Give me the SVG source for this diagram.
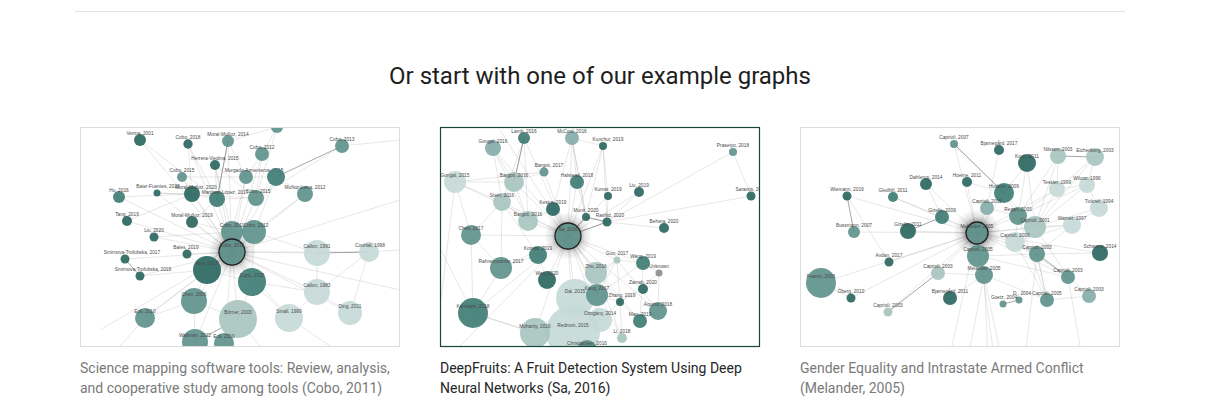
<svg xmlns="http://www.w3.org/2000/svg" width="1211" height="407" viewBox="0 0 1211 407">
<defs>
<style>
.cap{font-family:Roboto,"Liberation Sans",sans-serif;font-size:14px;fill:#7a7a7a}
.cap2{font-family:Roboto,"Liberation Sans",sans-serif;font-size:14px;fill:#262626}
.t{font-family:"Liberation Sans",Arial,sans-serif;font-size:4.8px;fill:#4a4a4a;text-anchor:middle}
.e{stroke:#8a8a8a;stroke-opacity:.35;stroke-width:.6;fill:none}
.e2{stroke:#444;stroke-opacity:.6;stroke-width:.8;fill:none}
circle{fill-opacity:.92}
.d{fill:#2b6760}.dm{fill:#3f7c75}.m{fill:#5f938d}.lm{fill:#86ada9}.l{fill:#a8c4c0}.vl{fill:#c6dad7}.gr{fill:#8c8c8c}
.ctr{stroke:#222;stroke-width:1.3}
</style>
<radialGradient id="glow">
<stop offset="0.45" stop-color="#000" stop-opacity="0.4"/>
<stop offset="0.7" stop-color="#000" stop-opacity="0.12"/>
<stop offset="1" stop-color="#000" stop-opacity="0"/>
</radialGradient>
<clipPath id="c1"><rect x="81" y="128" width="318" height="218"/></clipPath>
<clipPath id="c2"><rect x="441" y="128" width="318" height="218"/></clipPath>
<clipPath id="c3"><rect x="801" y="128" width="318" height="218"/></clipPath>
</defs>
<rect width="1211" height="407" fill="#fff"/>
<line x1="75" y1="11.5" x2="1125" y2="11.5" stroke="#e3e3e3" stroke-width="1"/>
<text x="600" y="84" text-anchor="middle" font-family="Roboto,'Liberation Sans',sans-serif" font-size="24" fill="#1e1e1e">Or start with one of our example graphs</text>

<!-- ============ Thumbnail 1 ============ -->
<g id="thumb1" clip-path="url(#c1)">
<g id="t1-connectors">
<path class="e" d="M232 252L140 140M232 252L188 144M232 252L228 141M232 252L262 154M232 252L215 165M232 252L182 177M232 252L246 177M232 252L276 177M232 252L192 194M232 252L217 199M232 252L256 198M232 252L305 194M232 252L192 222M232 252L232 232M232 252L254 232M232 252L187 254M232 252L317 253M232 252L369 252M232 252L207 270M232 252L252 282M232 252L317 292M232 252L194 301M232 252L238 319M232 252L289 318M232 252L195 342M232 252L224 343M232 252L119 197M232 252L127 221M232 252L154 237M232 252L125 259M232 252L140 276M232 252L157 193M232 252L145 318M232 252L350 313M232 252L400 200M232 252L400 290M232 252L100 330"/>
<path class="e" d="M342 146L256 198M228 141L246 177M228 141L217 199M188 144L192 194M188 144L217 199M277 127L262 154M277 127L256 198M262 154L246 177M215 165L217 199M215 165L256 198M182 177L192 194M182 177L246 177M119 197L192 194M157 193L192 194M157 193L256 198M192 194L217 199M217 199L256 198M246 177L276 177M276 177L256 198M276 177L305 194M305 194L254 232M232 232L254 232M192 222L232 232M192 222L217 199M187 254L207 270M154 237L232 232M127 221L192 194M317 253L317 292M317 253L254 232M317 292L350 313M369 252L350 313M369 252L317 292M207 270L252 282M207 270L194 301M194 301L145 318M194 301L195 342M238 319L252 282M238 319L224 343M289 318L252 282M289 318L317 292M145 318L207 270M252 282L317 292M254 232L252 282M232 232L207 270M194 301L238 319M140 140L217 199M228 141L277 127M262 154L256 198M342 146L400 140M369 252L400 250M289 318L330 346M238 319L260 346M145 318L120 346M246 177L232 232M276 177L254 232M215 165L232 232M140 276L207 270"/>
<path class="e2" d="M342 146L276 177M125 259L140 276M317 253L369 252M238 319L195 342M228 141L217 199"/>
</g>
<circle cx="232" cy="252" r="24" fill="url(#glow)"/>
<g id="t1-n1"><circle class="d" cx="140" cy="140" r="6"/><text class="t" x="140" y="134.8">Verma, 2001</text></g>
<g id="t1-n2"><circle class="d" cx="188" cy="144" r="4.7"/><text class="t" x="188" y="138.8">Cobo, 2018</text></g>
<g id="t1-n3"><circle class="m" cx="228" cy="141" r="6"/><text class="t" x="228" y="135.8">Moral-Muñoz, 2014</text></g>
<g id="t1-n4"><circle class="m" cx="277" cy="127" r="6"/></g>
<g id="t1-n5"><circle class="m" cx="262" cy="154" r="7"/><text class="t" x="262" y="148.8">Cobo, 2012</text></g>
<g id="t1-n6"><circle class="m" cx="342" cy="146" r="7"/><text class="t" x="342" y="140.8">Cobo, 2013</text></g>
<g id="t1-n7"><circle class="d" cx="215" cy="165" r="5"/><text class="t" x="215" y="159.8">Herrera-Viedma, 2015</text></g>
<g id="t1-n8"><circle class="m" cx="182" cy="177" r="5"/><text class="t" x="182" y="171.8">Cobo, 2015</text></g>
<g id="t1-n9"><circle class="m" cx="246" cy="177" r="7"/><text class="t" x="254" y="171.8">Murgado-Armenteros, 2015</text></g>
<g id="t1-n10"><circle class="dm" cx="276" cy="177" r="9"/></g>
<g id="t1-n11"><circle class="dm" cx="119" cy="197" r="6"/><text class="t" x="119" y="191.8">Hu, 2016</text></g>
<g id="t1-n12"><circle class="d" cx="157" cy="193" r="3.5"/><text class="t" x="158" y="187.8">Baier-Fuentes, 2020</text></g>
<g id="t1-n13"><circle class="d" cx="192" cy="194" r="8"/><text class="t" x="196" y="188.8">Moral-Muñoz, 2020</text></g>
<g id="t1-n14"><circle class="dm" cx="217" cy="199" r="8"/><text class="t" x="225" y="193.8">Martínez-López, 2017</text></g>
<g id="t1-n15"><circle class="m" cx="256" cy="198" r="8"/><text class="t" x="258" y="192.8">Cobo, 2015</text></g>
<g id="t1-n16"><circle class="m" cx="305" cy="194" r="8"/><text class="t" x="305" y="188.8">Muñoz-Leiva, 2012</text></g>
<g id="t1-n17"><circle class="d" cx="127" cy="221" r="5"/><text class="t" x="127" y="215.8">Tang, 2019</text></g>
<g id="t1-n18"><circle class="d" cx="192" cy="222" r="6"/><text class="t" x="192" y="216.8">Moral-Muñoz, 2019</text></g>
<g id="t1-n19"><circle class="d" cx="154" cy="237" r="4.5"/><text class="t" x="154" y="231.8">Liu, 2020</text></g>
<g id="t1-n20"><circle class="m" cx="232" cy="232" r="11"/><text class="t" x="232" y="226.8">Cobo, 2011</text></g>
<g id="t1-n21"><circle class="m" cx="254" cy="232" r="12"/><text class="t" x="256" y="226.8">Cobo, 2012</text></g>
<g id="t1-n22"><circle class="d" cx="187" cy="254" r="4.5"/><text class="t" x="186" y="248.8">Bales, 2019</text></g>
<g id="t1-n23"><circle class="vl" cx="317" cy="253" r="13"/><text class="t" x="317" y="247.8">Callon, 1991</text></g>
<g id="t1-n24"><circle class="vl" cx="369" cy="252" r="10"/><text class="t" x="370" y="246.8">Courtial, 1998</text></g>
<g id="t1-n25"><circle class="d" cx="125" cy="259" r="4.5"/><text class="t" x="132" y="253.8">Smirnova-Trofubska, 2017</text></g>
<g id="t1-n26"><circle class="d" cx="140" cy="276" r="4.5"/><text class="t" x="143" y="270.8">Smirnova-Trofubska, 2018</text></g>
<g id="t1-n27"><circle class="d" cx="207" cy="270" r="14"/><text class="t" x="207" y="264.8">Aria, 2017</text></g>
<g id="t1-n28"><circle class="dm" cx="252" cy="282" r="14"/><text class="t" x="252" y="276.8">Zupic, 2015</text></g>
<g id="t1-n29"><circle class="vl" cx="317" cy="292" r="13"/><text class="t" x="317" y="286.8">Callon, 1983</text></g>
<g id="t1-n30"><circle class="m" cx="194" cy="301" r="13"/><text class="t" x="194" y="295.8">Chen, 2006</text></g>
<g id="t1-n31"><circle class="vl" cx="350" cy="313" r="12"/><text class="t" x="350" y="307.8">Ding, 2011</text></g>
<g id="t1-n32"><circle class="m" cx="145" cy="318" r="10"/><text class="t" x="145" y="312.8">Eck, 2010</text></g>
<g id="t1-n33"><circle class="l" cx="238" cy="319" r="19"/><text class="t" x="238" y="313.8">Börner, 2003</text></g>
<g id="t1-n34"><circle class="vl" cx="289" cy="318" r="14"/><text class="t" x="289" y="312.8">Small, 1999</text></g>
<g id="t1-n35"><circle class="m" cx="195" cy="342" r="13"/><text class="t" x="195" y="336.8">Waltman, 2012</text></g>
<g id="t1-n36"><circle class="m" cx="224" cy="343" r="10"/><text class="t" x="224" y="337.8">Eck, 2010</text></g>
<g id="t1-n0"><circle class="m ctr" cx="232" cy="252" r="13"/><text class="t" x="232" y="246.8">Cobo, 2011</text></g>
</g>
<rect x="80.5" y="127.5" width="319" height="219" fill="none" stroke="#dcdcdc" stroke-width="1"/>

<!-- ============ Thumbnail 2 ============ -->
<g id="thumb2" clip-path="url(#c2)">
<g id="t2-connectors">
<path class="e" d="M568 236L524 138M568 236L572 138M568 236L603 146M568 236L493 148M568 236L544 172M568 236L514 182M568 236L455 182M568 236L577 182M568 236L608 196M568 236L502 202M568 236L553 209M568 236L528 221M568 236L586 217M568 236L607 222M568 236L471 235M568 236L538 255M568 236L501 268M568 236L596 273M568 236L547 280M568 236L597 295M568 236L575 298M568 236L473 313M568 236L600 320M568 236L573 332M568 236L535 333M568 236L617 260M568 236L643 263M568 236L639 192M568 236L658 311M568 236L640 321M568 236L622 338M568 236L620 302M568 236L500 130M568 236L460 346"/>
<path class="e" d="M733 152L751 196M733 152L607 222M751 196L607 222M607 222L664 228M607 222L586 217M607 222L608 196M586 217L603 146M608 196L603 146M607 222L603 146M639 192L607 222M572 138L577 182M572 138L603 146M572 138L586 217M524 138L514 182M524 138L502 202M493 148L514 182M493 148L502 202M455 182L514 182M455 182L502 202M455 182L471 235M455 182L544 172M514 182L544 172M502 202L528 221M514 182L528 221M502 202L471 235M471 235L501 268M501 268L502 202M501 268L473 313M473 313L535 333M473 313L471 235M535 333L575 298M573 332L575 298M617 260L596 273M617 260L643 263M617 260L597 295M617 260L620 302M643 263L659 273M659 273L620 302M659 273L658 311M643 289L620 302M597 295L620 302M620 302L640 321M620 302L622 338M658 311L640 321M597 295L600 320M596 273L597 295M575 298L597 295M620 302L600 320M617 260L658 311M643 263L597 295M553 209L528 221M577 182L586 217M538 255L547 280M538 255L501 268M524 138L528 221M572 138L553 209M493 148L528 221M455 182L441 300M473 313L441 250M535 333L473 313M538 255L502 202M643 263L640 321M596 273L622 338M617 260L575 298M586 217L572 138"/>
<path class="e2" d="M568 236L607 222M568 236L586 217M586 217L607 222M524 138L514 182"/>
</g>
<circle cx="568" cy="236" r="24" fill="url(#glow)"/>
<g id="t2-n1"><circle class="dm" cx="524" cy="138" r="6"/><text class="t" x="524" y="132.8">Lamb, 2016</text></g>
<g id="t2-n2"><circle class="lm" cx="572" cy="138" r="7"/><text class="t" x="572" y="132.8">McCool, 2016</text></g>
<g id="t2-n3"><circle class="d" cx="603" cy="146" r="4"/><text class="t" x="608" y="140.8">Kunchur, 2019</text></g>
<g id="t2-n4"><circle class="lm" cx="493" cy="148" r="8"/><text class="t" x="493" y="142.8">Gongal, 2016</text></g>
<g id="t2-n5"><circle class="m" cx="733" cy="152" r="4"/><text class="t" x="733" y="146.8">Prasetyo, 2018</text></g>
<g id="t2-n6"><circle class="m" cx="544" cy="172" r="4.5"/><text class="t" x="549" y="166.8">Bargoti, 2017</text></g>
<g id="t2-n7"><circle class="l" cx="514" cy="182" r="10"/><text class="t" x="514" y="176.8">Bargoti, 2016</text></g>
<g id="t2-n8"><circle class="vl" cx="455" cy="182" r="11"/><text class="t" x="455" y="176.8">Gongal, 2015</text></g>
<g id="t2-n9"><circle class="dm" cx="577" cy="182" r="7"/><text class="t" x="577" y="176.8">Halstead, 2018</text></g>
<g id="t2-n10"><circle class="d" cx="608" cy="196" r="4"/><text class="t" x="608" y="190.8">Kumar, 2019</text></g>
<g id="t2-n11"><circle class="d" cx="639" cy="192" r="5"/><text class="t" x="639" y="186.8">Liu, 2019</text></g>
<g id="t2-n12"><circle class="d" cx="751" cy="196" r="4.5"/><text class="t" x="751" y="190.8">Sarantis, 2019</text></g>
<g id="t2-n13"><circle class="l" cx="502" cy="202" r="9"/><text class="t" x="502" y="196.8">Stein, 2016</text></g>
<g id="t2-n14"><circle class="d" cx="553" cy="209" r="7"/><text class="t" x="553" y="203.8">Kestur, 2019</text></g>
<g id="t2-n15"><circle class="l" cx="528" cy="221" r="10"/><text class="t" x="528" y="215.8">Bargoti, 2016</text></g>
<g id="t2-n16"><circle class="d" cx="586" cy="217" r="4"/><text class="t" x="586" y="211.8">Munir, 2020</text></g>
<g id="t2-n17"><circle class="d" cx="607" cy="222" r="4.5"/><text class="t" x="610" y="216.8">Rashid, 2020</text></g>
<g id="t2-n18"><circle class="d" cx="664" cy="228" r="5"/><text class="t" x="664" y="222.8">Behera, 2020</text></g>
<g id="t2-n19"><circle class="m" cx="471" cy="235" r="10"/><text class="t" x="471" y="229.8">Chen, 2017</text></g>
<g id="t2-n20"><circle class="dm" cx="538" cy="255" r="9"/><text class="t" x="538" y="249.8">Koirala, 2019</text></g>
<g id="t2-n21"><circle class="l" cx="617" cy="260" r="3.5"/><text class="t" x="617" y="254.8">Guo, 2017</text></g>
<g id="t2-n22"><circle class="dm" cx="643" cy="263" r="7"/><text class="t" x="643" y="257.8">Wang, 2019</text></g>
<g id="t2-n23"><circle class="gr" cx="659" cy="273" r="3.5"/><text class="t" x="659" y="267.8">Unknown</text></g>
<g id="t2-n24"><circle class="m" cx="501" cy="268" r="11"/><text class="t" x="501" y="262.8">Rahnemoonfar, 2017</text></g>
<g id="t2-n25"><circle class="l" cx="596" cy="273" r="11"/><text class="t" x="596" y="267.8">Zhu, 2016</text></g>
<g id="t2-n26"><circle class="d" cx="547" cy="280" r="9"/><text class="t" x="547" y="274.8">Wan, 2020</text></g>
<g id="t2-n27"><circle class="d" cx="643" cy="289" r="5"/><text class="t" x="643" y="283.8">Zainab, 2020</text></g>
<g id="t2-n29"><circle class="vl" cx="575" cy="298" r="19"/><text class="t" x="575" y="292.8">Dai, 2015</text></g>
<g id="t2-n28"><circle class="m" cx="597" cy="295" r="11"/><text class="t" x="597" y="289.8">Kang, 2017</text></g>
<g id="t2-n30"><circle class="dm" cx="473" cy="313" r="15"/><text class="t" x="473" y="307.8">Kamilaris, 2018</text></g>
<g id="t2-n31"><circle class="d" cx="620" cy="302" r="4"/><text class="t" x="622" y="296.8">Zhang, 2019</text></g>
<g id="t2-n32"><circle class="m" cx="658" cy="311" r="9"/><text class="t" x="658" y="305.8">Aquino, 2018</text></g>
<g id="t2-n35"><circle class="vl" cx="573" cy="332" r="27"/><text class="t" x="573" y="326.8">Redmon, 2015</text></g>
<g id="t2-n33"><circle class="vl" cx="600" cy="320" r="12"/><text class="t" x="600" y="314.8">Ozogány, 2014</text></g>
<g id="t2-n34"><circle class="dm" cx="640" cy="321" r="7"/><text class="t" x="640" y="315.8">Mao, 2019</text></g>
<g id="t2-n36"><circle class="l" cx="535" cy="333" r="15"/><text class="t" x="535" y="327.8">Mohanty, 2016</text></g>
<g id="t2-n37"><circle class="l" cx="622" cy="338" r="5"/><text class="t" x="622" y="332.8">Li, 2018</text></g>
<g id="t2-n38"><circle class="m" cx="587" cy="350" r="10"/><text class="t" x="587" y="344.8">Christiansen, 2016</text></g>
<g id="t2-n0"><circle class="m ctr" cx="568" cy="236" r="13"/><text class="t" x="568" y="230.8">Sa, 2016</text></g>
</g>
<rect x="440.5" y="127.5" width="319" height="219" fill="none" stroke="#17473f" stroke-width="1.2"/>

<!-- ============ Thumbnail 3 ============ -->
<g id="thumb3" clip-path="url(#c3)">
<g id="t3-connectors">
<path class="e" d="M977 233L954 144M977 233L926 184M977 233L967 182M977 233L1004 193M977 233L893 197M977 233L987 208M977 233L1018 216M977 233L942 217M977 233L1035 227M977 233L854 232M977 233L908 231M977 233L1015 242M977 233L978 256M977 233L1037 254M977 233L889 262M977 233L938 273M977 233L984 275M977 233L821 283M977 233L851 298M977 233L888 312M977 233L1057 189M977 233L1072 225M977 233L1068 277M977 233L1100 253M977 233L847 196M977 233L940 400M977 233L1000 400"/>
<path class="e" d="M954 144L1004 193M999 150L987 208M1058 156L1035 227M1095 157L1087 185M1058 156L1057 189M1057 189L1087 185M1087 185L1099 208M1057 189L1018 216M1087 185L1035 227M1099 208L1035 227M1018 216L1035 227M1018 216L1015 242M1035 227L1072 225M1072 225L1015 242M1015 242L1037 254M1037 254L1047 300M1089 296L1047 300M1037 254L1100 253M926 184L942 217M893 197L942 217M984 275L938 273M984 275L978 256M978 256L1037 254M984 275L1047 300M984 275L950 298M1004 193L1018 216M1027 163L1035 227M1027 163L1018 216M1027 163L1004 193M987 208L1018 216M978 256L1068 277M1095 157L1035 227M1058 156L1018 216M1099 208L1072 225M1095 157L1057 189M1072 225L1037 254M1015 242L1068 277M984 275L960 400M984 275L990 400M984 275L1010 400M1037 254L1020 400M1068 277L1080 346M1037 254L1047 300M1089 296L1068 277M1015 242L1047 300M1035 227L1068 277M967 182L1004 193M847 196L889 262M821 283L851 298M1018 216L1047 300M1057 189L1035 227M1004 193L1035 227M1087 185L1018 216"/>
<path class="e2" d="M1058 156L1095 157M847 196L854 232M908 231L942 217M938 273L888 312M1019 300L1003 304M1037 254L1068 277M954 144L1004 193"/>
</g>
<circle cx="977" cy="233" r="24" fill="url(#glow)"/>
<g id="t3-n1"><circle class="m" cx="954" cy="144" r="4"/><text class="t" x="954" y="138.8">Caprioli, 2007</text></g>
<g id="t3-n2"><circle class="d" cx="999" cy="150" r="5"/><text class="t" x="999" y="144.8">Bjarnegård, 2017</text></g>
<g id="t3-n3"><circle class="d" cx="1027" cy="163" r="9"/><text class="t" x="1027" y="157.8">Koch, 2011</text></g>
<g id="t3-n4"><circle class="l" cx="1058" cy="156" r="8"/><text class="t" x="1058" y="150.8">Nilsson, 2003</text></g>
<g id="t3-n5"><circle class="l" cx="1095" cy="157" r="9"/><text class="t" x="1095" y="151.8">Eichenberg, 2003</text></g>
<g id="t3-n6"><circle class="d" cx="926" cy="184" r="6"/><text class="t" x="926" y="178.8">Dahlerup, 2014</text></g>
<g id="t3-n7"><circle class="d" cx="967" cy="182" r="5"/><text class="t" x="967" y="176.8">Hoeme, 2011</text></g>
<g id="t3-n8"><circle class="dm" cx="1004" cy="193" r="10"/><text class="t" x="1004" y="187.8">Hudson, 2009</text></g>
<g id="t3-n9"><circle class="vl" cx="1057" cy="189" r="8"/><text class="t" x="1057" y="183.8">Tessler, 1999</text></g>
<g id="t3-n10"><circle class="vl" cx="1087" cy="185" r="8"/><text class="t" x="1087" y="179.8">Wilcox, 1996</text></g>
<g id="t3-n11"><circle class="d" cx="847" cy="196" r="4.5"/><text class="t" x="847" y="190.8">Wiemann, 2019</text></g>
<g id="t3-n12"><circle class="dm" cx="893" cy="197" r="5"/><text class="t" x="893" y="191.8">Gledhill, 2011</text></g>
<g id="t3-n13"><circle class="lm" cx="987" cy="208" r="7"/><text class="t" x="987" y="202.8">Caprioli, 2005</text></g>
<g id="t3-n14"><circle class="m" cx="1018" cy="216" r="9"/><text class="t" x="1018" y="210.8">Regan, 2003</text></g>
<g id="t3-n15"><circle class="vl" cx="1099" cy="208" r="9"/><text class="t" x="1099" y="202.8">Tickner, 1994</text></g>
<g id="t3-n16"><circle class="dm" cx="942" cy="217" r="7"/><text class="t" x="942" y="211.8">Gizelis, 2009</text></g>
<g id="t3-n17"><circle class="l" cx="1035" cy="227" r="11"/><text class="t" x="1035" y="221.8">Caprioli, 2001</text></g>
<g id="t3-n18"><circle class="vl" cx="1072" cy="225" r="9"/><text class="t" x="1072" y="219.8">Warner, 1997</text></g>
<g id="t3-n19"><circle class="m" cx="854" cy="232" r="6"/><text class="t" x="854" y="226.8">Bussmann, 2007</text></g>
<g id="t3-n20"><circle class="d" cx="908" cy="231" r="8"/><text class="t" x="908" y="225.8">Gizelis, 2011</text></g>
<g id="t3-n21"><circle class="vl" cx="1015" cy="242" r="10"/><text class="t" x="1015" y="236.8">Caprioli, 2000</text></g>
<g id="t3-n22"><circle class="m" cx="978" cy="256" r="11"/><text class="t" x="978" y="250.8">Caprioli, 2005</text></g>
<g id="t3-n23"><circle class="m" cx="1037" cy="254" r="8"/><text class="t" x="1037" y="248.8">Caprioli, 2003</text></g>
<g id="t3-n24"><circle class="d" cx="1100" cy="253" r="8"/><text class="t" x="1100" y="247.8">Schwartz, 2014</text></g>
<g id="t3-n25"><circle class="d" cx="889" cy="262" r="4.5"/><text class="t" x="889" y="256.8">Avdan, 2017</text></g>
<g id="t3-n26"><circle class="l" cx="938" cy="273" r="7"/><text class="t" x="938" y="267.8">Caprioli, 2003</text></g>
<g id="t3-n27"><circle class="m" cx="984" cy="275" r="9"/><text class="t" x="984" y="269.8">Melander, 2005</text></g>
<g id="t3-n28"><circle class="m" cx="1068" cy="277" r="7"/><text class="t" x="1068" y="271.8">Caprioli, 2003</text></g>
<g id="t3-n29"><circle class="m" cx="821" cy="283" r="15"/><text class="t" x="821" y="277.8">Fearon, 2003</text></g>
<g id="t3-n30"><circle class="d" cx="851" cy="298" r="4.5"/><text class="t" x="851" y="292.8">Öberg, 2010</text></g>
<g id="t3-n31"><circle class="d" cx="950" cy="298" r="7"/><text class="t" x="950" y="292.8">Bjarnegård, 2011</text></g>
<g id="t3-n32"><circle class="m" cx="1019" cy="300" r="3.5"/><text class="t" x="1022" y="294.8">D., 2004</text></g>
<g id="t3-n33"><circle class="m" cx="1003" cy="304" r="3.5"/><text class="t" x="1004" y="298.8">Goetz, 2004</text></g>
<g id="t3-n34"><circle class="m" cx="1047" cy="300" r="7"/><text class="t" x="1047" y="294.8">Caprioli, 2005</text></g>
<g id="t3-n35"><circle class="lm" cx="1089" cy="296" r="7"/><text class="t" x="1089" y="290.8">Caprioli, 2003</text></g>
<g id="t3-n36"><circle class="l" cx="888" cy="312" r="4.5"/><text class="t" x="888" y="306.8">Caprioli, 2003</text></g>
<g id="t3-n0"><circle class="m ctr" cx="977" cy="233" r="11"/><text class="t" x="977" y="227.8">Melander, 2005</text></g>
</g>
<rect x="800.5" y="127.5" width="319" height="219" fill="none" stroke="#dcdcdc" stroke-width="1"/>

<!-- captions -->
<g id="caption1"><text class="cap" x="80" y="373">Science mapping software tools: Review, analysis,</text><text class="cap" x="80" y="393">and cooperative study among tools (Cobo, 2011)</text></g>
<g id="caption2"><text class="cap2" x="440" y="373">DeepFruits: A Fruit Detection System Using Deep</text><text class="cap2" x="440" y="393">Neural Networks (Sa, 2016)</text></g>
<g id="caption3"><text class="cap" x="800" y="373">Gender Equality and Intrastate Armed Conflict</text><text class="cap" x="800" y="393">(Melander, 2005)</text></g>
</svg>
